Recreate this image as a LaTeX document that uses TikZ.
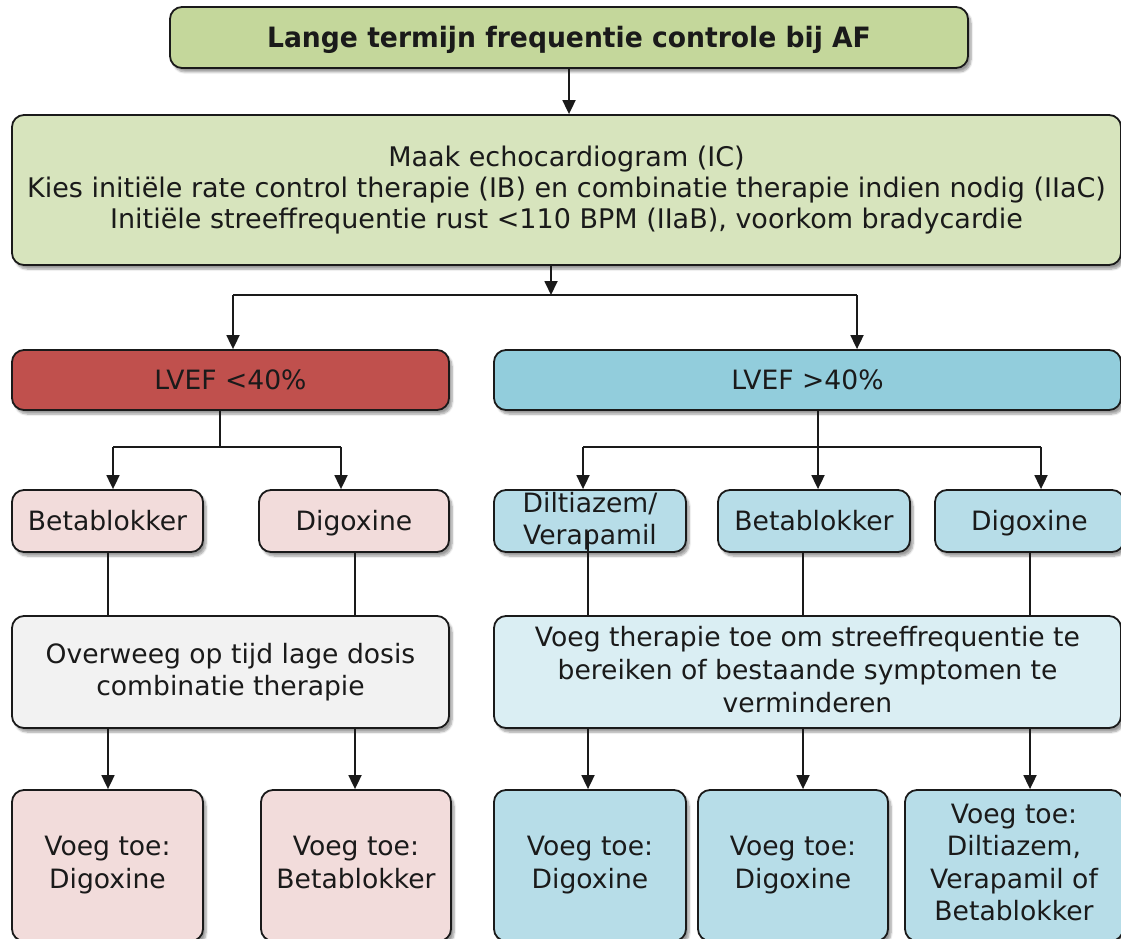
\documentclass[tikz,border=0pt]{standalone}
\usepackage{fontspec}
\setmainfont{DejaVu Sans}
\newfontfamily\titlefont{DejaVu Sans}[FakeStretch=0.95]
\usetikzlibrary{arrows.meta,shadows.blur}
\definecolor{cTitle}{HTML}{C4D79B}
\definecolor{cMain}{HTML}{D7E4BD}
\definecolor{cRed}{HTML}{C0504D}
\definecolor{cCyan}{HTML}{92CDDC}
\definecolor{cPink}{HTML}{F2DCDB}
\definecolor{cBlue}{HTML}{B7DDE8}
\definecolor{cGray}{HTML}{F2F2F2}
\definecolor{cLight}{HTML}{DAEEF3}
\definecolor{cLine}{HTML}{1A1A1A}
\newcommand\boxstrut{\rule[-0.23em]{0pt}{1.18em}}
\begin{document}
\begin{tikzpicture}[x=1pt,y=-1pt,
  box/.style={draw=cLine, line width=1.8pt, rounded corners=12pt, align=center,
    inner sep=0pt, text=cLine, font=\fontsize{26.6}{33}\selectfont,
    execute at begin node=\boxstrut, execute at end node=\boxstrut,
    blur shadow={shadow xshift=3pt, shadow yshift=-4pt, shadow blur steps=6, shadow opacity=40}},
  arr/.style={draw=cLine, line width=1.8pt, -{Triangle[width=13pt,length=14pt]}},
  ln/.style={draw=cLine, line width=1.8pt},
]
\useasboundingbox (0,0) rectangle (1121,939);
\clip (0,0) rectangle (1121,939);

% boxes
\node[box, fill=cTitle, minimum width=798, minimum height=61,
  font=\titlefont\bfseries\fontsize{28}{32}\selectfont] (title) at (569,37.5)
  {Lange termijn frequentie controle bij AF};
\node[box, fill=cMain, minimum width=1109, minimum height=150,
  font=\fontsize{27}{31}\selectfont] (main) at (566.5,190)
  {Maak echocardiogram (IC)\\Kies initiële rate control therapie (IB) en combinatie therapie indien nodig (IIaC)\\Initiële streeffrequentie rust <110 BPM (IIaB), voorkom bradycardie};

\node[box, fill=cRed, minimum width=437, minimum height=60] (lvefL) at (230.5,380) {LVEF <40\%};
\node[box, fill=cCyan, minimum width=627, minimum height=60] (lvefR) at (807.5,380) {LVEF >40\%};

\node[box, fill=cPink, minimum width=191, minimum height=62] (bbL) at (107.5,521) {Betablokker};
\node[box, fill=cPink, minimum width=190, minimum height=62] (digL) at (354,521) {Digoxine};
\node[box, fill=cBlue, minimum width=192, minimum height=62, font=\fontsize{26.6}{32}\selectfont] (dil) at (590,521) {Diltiazem/\\Verapamil};
\node[box, fill=cBlue, minimum width=192, minimum height=62] (bbR) at (814,521) {Betablokker};
\node[box, fill=cBlue, minimum width=189, minimum height=62] (digR) at (1029.5,521) {Digoxine};

\node[box, fill=cGray, minimum width=437, minimum height=112, font=\fontsize{26.6}{32}\selectfont] (ovw) at (230.5,672)
  {Overweeg op tijd lage dosis\\combinatie therapie};
\node[box, fill=cLight, minimum width=627, minimum height=112] (voeg) at (807.5,672)
  {Voeg therapie toe om streeffrequentie te\\bereiken of bestaande symptomen te\\verminderen};

\node[box, fill=cPink, minimum width=191, minimum height=151] (a5) at (107.5,865.5) {Voeg toe:\\Digoxine};
\node[box, fill=cPink, minimum width=190, minimum height=151] (b5) at (356,865.5) {Voeg toe:\\Betablokker};
\node[box, fill=cBlue, minimum width=192, minimum height=151] (c5) at (590,865.5) {Voeg toe:\\Digoxine};
\node[box, fill=cBlue, minimum width=190, minimum height=151] (d5) at (793,865.5) {Voeg toe:\\Digoxine};
\node[box, fill=cBlue, minimum width=218, minimum height=151, font=\fontsize{26.6}{32.5}\selectfont] (e5) at (1014,865.5) {Voeg toe:\\Diltiazem,\\Verapamil of\\Betablokker};

% guide coordinates
\coordinate (j1) at (551,295);
\coordinate (jL) at (233,295);
\coordinate (jR) at (857,295);
\coordinate (kL) at (220,447);
\coordinate (kL1) at (113,447);
\coordinate (kL2) at (341,447);
\coordinate (kR) at (818,447);
\coordinate (kR1) at (583,447);
\coordinate (kR3) at (1041,447);
\coordinate (v1) at (108,0);
\coordinate (v2) at (355,0);
\coordinate (v3) at (588,0);
\coordinate (v4) at (803,0);
\coordinate (v5) at (1030,0);

% connectors
\draw[arr] (title.south) -- (title.south |- main.north);
\draw[arr] (main.south -| j1) -- (j1);
\draw[ln] (jL) -- (jR);
\draw[arr] (jL) -- (jL |- lvefL.north);
\draw[arr] (jR) -- (jR |- lvefR.north);

\draw[ln] (lvefL.south -| kL) -- (kL);
\draw[ln] (kL1) -- (kL2);
\draw[arr] (kL1) -- (kL1 |- bbL.north);
\draw[arr] (kL2) -- (kL2 |- digL.north);

\draw[arr] (lvefR.south -| kR) -- (kR |- bbR.north);
\draw[ln] (kR1) -- (kR3);
\draw[arr] (kR1) -- (kR1 |- dil.north);
\draw[arr] (kR3) -- (kR3 |- digR.north);

\draw[ln] (bbL.south -| v1) -- (v1 |- ovw.north);
\draw[ln] (digL.south -| v2) -- (v2 |- ovw.north);
\draw[ln] ([yshift=22pt]dil.south -| v3) -- (v3 |- voeg.north);
\draw[ln] (bbR.south -| v4) -- (v4 |- voeg.north);
\draw[ln] (digR.south -| v5) -- (v5 |- voeg.north);

\draw[arr] (ovw.south -| v1) -- (v1 |- a5.north);
\draw[arr] (ovw.south -| v2) -- (v2 |- b5.north);
\draw[arr] (voeg.south -| v3) -- (v3 |- c5.north);
\draw[arr] (voeg.south -| v4) -- (v4 |- d5.north);
\draw[arr] (voeg.south -| v5) -- (v5 |- e5.north);
\end{tikzpicture}
\end{document}
